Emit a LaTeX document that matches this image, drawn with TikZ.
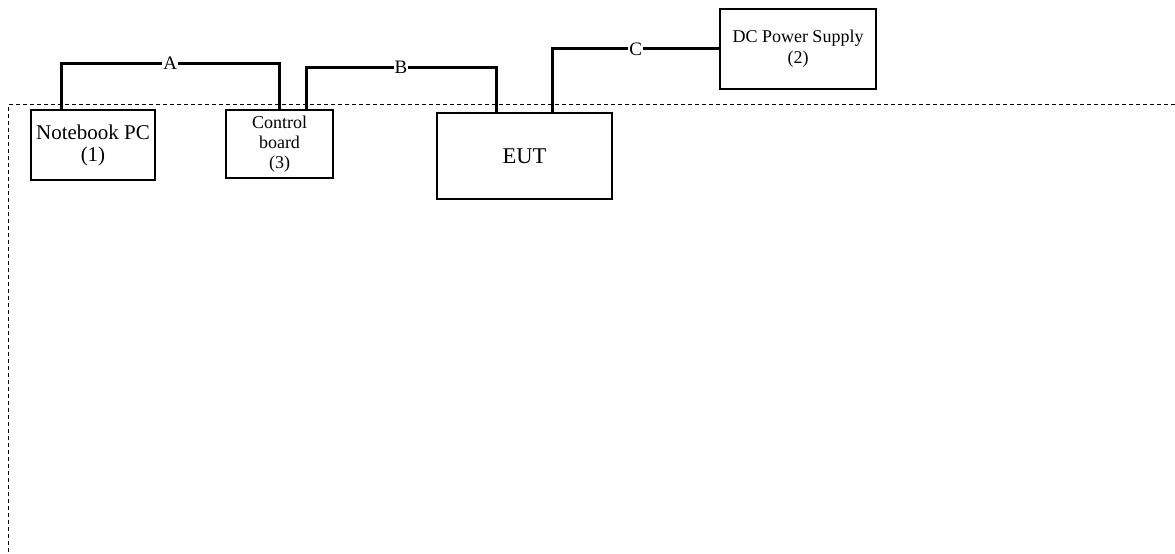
\documentclass[tikz,border=0pt]{standalone}
\usepackage{fontspec}
\setmainfont{Liberation Serif}
\usepackage{tikz}
\usetikzlibrary{positioning}

\begin{document}
\begin{tikzpicture}[x=1pt, y=1pt,
      unit/.style={draw, line width=1.2pt, inner sep=0pt, align=center,
                   font=\fontsize{21}{22}\selectfont},
      cable/.style={line width=3pt},
      lbl/.style={fill=white, inner sep=1pt, font=\fontsize{19}{22}\selectfont}]
    \useasboundingbox (0,0) rectangle (1175,554);
    % test area boundary
    \draw[dashed, line width=1pt, dash pattern=on 4pt off 3pt] (1175,449) -- (8,449) -- (8,0);
    % units
    \node[unit, minimum width=124pt, minimum height=70pt] (pc) at (93,409) {Notebook PC\\(1)};
    \node[unit, minimum width=107pt, minimum height=68pt, font=\fontsize{18}{20}\selectfont] (ctrl) at (279.5,410) {Control\\board\\(3)};
    \node[unit, minimum width=175pt, minimum height=86pt, font=\fontsize{22.5}{24}\selectfont] (eut) at (524.5,398) {EUT};
    \node[unit, minimum width=156pt, minimum height=80pt, font=\fontsize{18}{21}\selectfont] (dc) at (798,505) {DC Power Supply\\(2)};
    % cables
    \draw[cable] ([xshift=-32pt]pc.north) -- ++(0,46) -| node[lbl, pos=0.25]{A} (ctrl.north);
    \draw[cable] ([xshift=26.5pt]ctrl.north) -- ++(0,42) -| node[lbl, pos=0.25]{B} ([xshift=-28.5pt]eut.north);
    \draw[cable] ([xshift=27.5pt]eut.north) |- node[lbl, pos=0.75]{C} (dc.west);
\end{tikzpicture}
\end{document}
